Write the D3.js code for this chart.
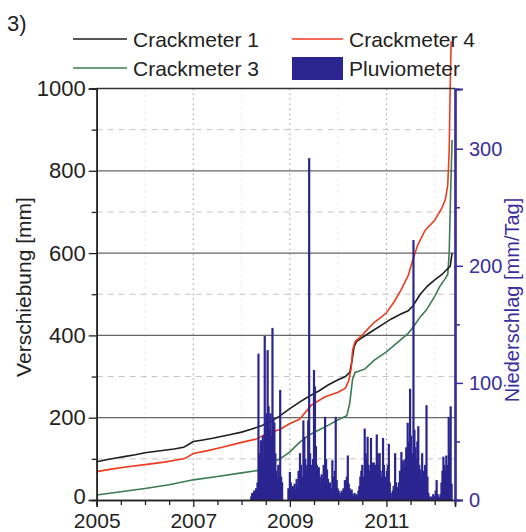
<!DOCTYPE html>
<html>
<head>
<meta charset="utf-8">
<script src="https://cdn.jsdelivr.net/npm/d3@7"></script>
<style>
  body { margin: 0; background: #fff; }
  svg { font-family: "Liberation Sans", Arial, sans-serif; }
</style>
</head>
<body>
<div id="chart"></div>
<script>
// Crackmeter 1 (black)
var c1Years = [2005.0, 2005.2, 2005.4, 2005.6, 2005.8, 2006.0, 2006.2, 2006.4, 2006.6, 2006.8, 2006.9, 2007.0, 2007.2, 2007.4, 2007.6, 2007.8, 2008.0, 2008.2, 2008.4, 2008.6, 2008.8, 2009.0, 2009.2, 2009.4, 2009.6, 2009.8, 2010.0, 2010.15, 2010.24, 2010.29, 2010.33, 2010.38, 2010.5, 2010.7, 2010.9, 2011.1, 2011.3, 2011.45, 2011.55, 2011.7, 2011.85, 2012.0, 2012.15, 2012.25, 2012.32, 2012.36]
var c1Values = [93, 98, 102, 106, 110, 115, 118, 121, 124, 128, 135, 142, 146, 150, 155, 160, 165, 172, 180, 190, 205, 222, 238, 252, 265, 280, 292, 300, 310, 340, 372, 385, 395, 410, 425, 440, 452, 460, 472, 500, 520, 535, 548, 560, 568, 600]

// Crackmeter 4 (red)
var c4Years = [2005.0, 2005.3, 2005.6, 2006.0, 2006.4, 2006.8, 2006.9, 2007.0, 2007.3, 2007.6, 2008.0, 2008.3, 2008.5, 2008.8, 2009.0, 2009.2, 2009.45, 2009.73, 2010.0, 2010.15, 2010.22, 2010.27, 2010.3, 2010.35, 2010.5, 2010.65, 2010.75, 2010.9, 2011.0, 2011.15, 2011.3, 2011.45, 2011.55, 2011.65, 2011.8, 2012.0, 2012.15, 2012.22, 2012.27, 2012.3, 2012.32, 2012.34]
var c4Values = [69, 75, 80, 86, 92, 100, 106, 113, 120, 128, 140, 148, 160, 172, 186, 196, 231, 251, 262, 272, 290, 320, 365, 385, 401, 420, 432, 445, 455, 480, 510, 545, 585, 620, 655, 680, 710, 730, 765, 850, 1000, 1115]

// Crackmeter 3 (green)
var c3Years = [2005.0, 2005.5, 2006.0, 2006.5, 2007.0, 2007.5, 2008.0, 2008.35, 2008.5, 2008.6, 2008.8, 2009.0, 2009.2, 2009.4, 2009.6, 2009.8, 2010.0, 2010.18, 2010.24, 2010.3, 2010.35, 2010.55, 2010.75, 2011.0, 2011.25, 2011.45, 2011.55, 2011.7, 2011.83, 2012.0, 2012.1, 2012.2, 2012.27, 2012.3, 2012.33, 2012.36]
var c3Values = [12, 20, 28, 37, 49, 57, 66, 72, 74, 90, 100, 117, 140, 158, 170, 182, 195, 205, 235, 295, 310, 318, 340, 360, 385, 405, 420, 445, 462, 495, 518, 535, 548, 600, 750, 875]

// Pluviometer (mm/Tag)
var rainYears = [2008.20, 2008.22, 2008.24, 2008.26, 2008.28, 2008.30, 2008.33, 2008.35, 2008.37, 2008.40, 2008.42, 2008.44, 2008.46, 2008.48, 2008.50, 2008.52, 2008.54, 2008.56, 2008.58, 2008.60, 2008.62, 2008.64, 2008.66, 2008.68, 2008.70, 2008.72, 2008.74, 2008.76, 2008.78, 2008.80, 2008.82, 2008.84,
  2008.97, 2009.00, 2009.02, 2009.04, 2009.06, 2009.08, 2009.10, 2009.12, 2009.14, 2009.16, 2009.18, 2009.21, 2009.23, 2009.25, 2009.28, 2009.30, 2009.32, 2009.34, 2009.36, 2009.38, 2009.40, 2009.42, 2009.44, 2009.46, 2009.48, 2009.50, 2009.52, 2009.54, 2009.56, 2009.58, 2009.60, 2009.62, 2009.64, 2009.66, 2009.68, 2009.70, 2009.73, 2009.75, 2009.77, 2009.79, 2009.81, 2009.83, 2009.85, 2009.88, 2009.90, 2009.93, 2009.95, 2009.97, 2009.99,
  2010.01, 2010.03, 2010.05, 2010.07, 2010.09, 2010.11, 2010.14, 2010.16, 2010.18, 2010.20, 2010.22, 2010.24, 2010.26, 2010.28, 2010.30, 2010.32, 2010.34, 2010.36, 2010.38, 2010.40, 2010.42, 2010.44, 2010.46, 2010.48, 2010.50, 2010.52, 2010.55, 2010.57, 2010.59, 2010.61, 2010.63, 2010.65, 2010.68, 2010.70, 2010.72, 2010.74, 2010.76, 2010.78, 2010.80, 2010.82, 2010.84, 2010.86, 2010.88, 2010.90, 2010.93, 2010.95, 2010.97, 2010.99,
  2011.01, 2011.03, 2011.05, 2011.07, 2011.09, 2011.11, 2011.13, 2011.15, 2011.18, 2011.20, 2011.22, 2011.24, 2011.26, 2011.28, 2011.31, 2011.33, 2011.35, 2011.37, 2011.39, 2011.41, 2011.44, 2011.46, 2011.49, 2011.51, 2011.53, 2011.56, 2011.58, 2011.60, 2011.62, 2011.64, 2011.66, 2011.68, 2011.70, 2011.72, 2011.74, 2011.76, 2011.78, 2011.80, 2011.83, 2011.85, 2011.87, 2011.89, 2011.93, 2011.95, 2011.97, 2011.99,
  2012.02, 2012.04, 2012.06, 2012.08, 2012.10, 2012.12, 2012.14, 2012.16, 2012.18, 2012.20, 2012.22, 2012.24, 2012.26, 2012.29, 2012.31, 2012.33, 2012.35]
var rainValues = [3, 6, 2, 8, 5, 10, 15, 125, 40, 51, 30, 55, 35, 140, 60, 74, 128, 80, 60, 74, 55, 147, 70, 66, 40, 25, 18, 30, 20, 94, 20, 15,
  10, 24, 15, 8, 12, 10, 14, 9, 18, 12, 25, 40, 30, 20, 68, 54, 35, 25, 30, 68, 292, 40, 30, 20, 35, 111, 97, 46, 30, 25, 28, 20, 15, 22, 18, 30, 71, 35, 26, 18, 12, 15, 10, 34, 20, 25, 71, 17, 10,
  8, 6, 4, 8, 6, 10, 17, 12, 20, 38, 14, 10, 7, 9, 5, 3, 6, 4, 5, 3, 8, 12, 20, 25, 30, 20, 61, 40, 35, 54, 30, 25, 53, 32, 20, 32, 25, 30, 56, 40, 30, 40, 25, 20, 53, 30, 20, 12,
  25, 30, 48, 15, 6, 3, 8, 12, 40, 15, 11, 8, 15, 25, 41, 30, 34, 28, 35, 45, 66, 50, 95, 55, 40, 222, 60, 45, 35, 50, 63, 30, 26, 20, 40, 25, 15, 30, 81, 20, 6, 3, 3, 2, 5, 3,
  8, 17, 5, 3, 2, 5, 15, 25, 37, 30, 25, 38, 30, 71, 40, 80, 14]

var leftTicks = [0, 200, 400, 600, 800, 1000]
var leftMinor = [100, 300, 500, 700, 900]
var rightTicks = [0, 100, 200, 300]
var rightMinor = [50, 150, 250]
var xTicks = [2005, 2007, 2009, 2011]
var xMinor = [2005.5, 2006, 2006.5, 2007.5, 2008, 2008.5, 2009.5, 2010, 2010.5, 2011.5, 2012]

var blue = "#2b2590"
var axisBlue = "#3a2e9c"

var svg = d3.select("#chart")
    .append("svg")
    .attr("width", 526)
    .attr("height", 532)

var x = d3.scaleLinear().domain([2005, 2012.42]).range([96.7, 455])
var y = d3.scaleLinear().domain([0, 1000]).range([500, 88.5])
var yR = d3.scaleLinear().domain([0, 351]).range([500, 89])

// grid
svg.append("g")
    .selectAll("line.vmin")
    .data([2006, 2008, 2010, 2012])
    .enter()
    .append("line")
    .attr("x1", function (d) { return x(d) })
    .attr("x2", function (d) { return x(d) })
    .attr("y1", y(1000))
    .attr("y2", y(0))
    .attr("stroke", "#e4e4e4")
    .attr("stroke-dasharray", "2,4")

svg.append("g")
    .selectAll("line.vmaj")
    .data([2007, 2009, 2011])
    .enter()
    .append("line")
    .attr("x1", function (d) { return x(d) })
    .attr("x2", function (d) { return x(d) })
    .attr("y1", y(1000))
    .attr("y2", y(0))
    .attr("stroke", "#999")
    .attr("stroke-dasharray", "1.5,3.5")

svg.append("g")
    .selectAll("line.hmin")
    .data(leftMinor)
    .enter()
    .append("line")
    .attr("x1", x(2005))
    .attr("x2", x.range()[1])
    .attr("y1", function (d) { return y(d) })
    .attr("y2", function (d) { return y(d) })
    .attr("stroke", "#c4c4c4")
    .attr("stroke-dasharray", "6,5")

svg.append("g")
    .selectAll("line.hmaj")
    .data([200, 400, 600, 800])
    .enter()
    .append("line")
    .attr("x1", x(2005))
    .attr("x2", x.range()[1])
    .attr("y1", function (d) { return y(d) })
    .attr("y2", function (d) { return y(d) })
    .attr("stroke", "#666")
    .attr("stroke-width", 1.2)

// crackmeter lines
var line = d3.line()
    .x(function (d) { return x(d[0]) })
    .y(function (d) { return y(d[1]) })

var series = [
    { years: c3Years, values: c3Values, color: "#3d7c52" },
    { years: c1Years, values: c1Values, color: "#1e1e1e" },
    { years: c4Years, values: c4Values, color: "#ee3b1f" }
]
series.forEach(function (s) {
    svg.append("path")
        .datum(s.years.map(function (d, i) { return [d, s.values[i]] }))
        .attr("fill", "none")
        .attr("stroke", s.color)
        .attr("stroke-width", 1.6)
        .attr("d", line)
})

// rain bars (on top of the lines)
svg.append("g")
    .selectAll("rect")
    .data(rainYears)
    .enter()
    .append("rect")
    .attr("x", function (d) { return x(d) - 1.1 })
    .attr("width", 2.2)
    .attr("y", function (d, i) { return yR(rainValues[i]) })
    .attr("height", function (d, i) { return yR(0) - yR(rainValues[i]) })
    .attr("fill", blue)

// frame top
svg.append("line")
    .attr("x1", x(2005)).attr("x2", x.range()[1])
    .attr("y1", y(1000)).attr("y2", y(1000))
    .attr("stroke", "#333").attr("stroke-width", 1.6)

// left axis
var gL = svg.append("g").attr("transform", "translate(" + x(2005) + ",0)")
gL.call(d3.axisLeft(y).tickValues(leftTicks).tickSize(8).tickPadding(3).tickFormat(d3.format("d")))
gL.append("g").call(d3.axisLeft(y).tickValues(leftMinor).tickSize(5).tickFormat(""))
gL.selectAll(".domain").attr("stroke", "#222").attr("stroke-width", 1.6)
gL.selectAll("line").attr("stroke", "#222").attr("stroke-width", 1.3)
gL.selectAll("text").style("font-size", "22px").style("fill", "#222")
    .style("font-family", "Liberation Sans, Arial, sans-serif")
// lift the "0" a little so it clears the "2005" below it
gL.selectAll(".tick text").filter(function (d) { return d === 0 }).attr("dy", "0.17em")

// bottom axis
var gB = svg.append("g").attr("transform", "translate(0," + y(0) + ")")
gB.call(d3.axisBottom(x).tickValues(xTicks).tickSize(7).tickPadding(6).tickFormat(d3.format("d")))
gB.append("g").call(d3.axisBottom(x).tickValues(xMinor).tickSize(5).tickFormat(""))
gB.selectAll(".domain").attr("stroke", "#222").attr("stroke-width", 1.6)
gB.selectAll("line").attr("stroke", "#222").attr("stroke-width", 1.3)
gB.selectAll("text").style("font-size", "21px").style("fill", "#222")
    .style("font-family", "Liberation Sans, Arial, sans-serif")

// right axis
var gR = svg.append("g").attr("transform", "translate(" + x.range()[1] + ",0)")
gR.call(d3.axisRight(yR).tickValues(rightTicks).tickSize(8).tickPadding(6).tickFormat(d3.format("d")))
gR.append("g").call(d3.axisRight(yR).tickValues(rightMinor).tickSize(5).tickFormat(""))
gR.selectAll(".domain").attr("stroke", axisBlue).attr("stroke-width", 2.2)
gR.selectAll("line").attr("stroke", axisBlue).attr("stroke-width", 1.5)
gR.selectAll("text").style("font-size", "20px").style("fill", axisBlue)
    .style("font-family", "Liberation Sans, Arial, sans-serif")

// axis titles
svg.append("text")
    .text("Verschiebung [mm]")
    .attr("transform", "translate(31,287) rotate(-90)")
    .attr("text-anchor", "middle")
    .style("font-size", "21px")
    .style("fill", "#222")

svg.append("text")
    .text("Niederschlag [mm/Tag]")
    .attr("transform", "translate(519,300) rotate(-90)")
    .attr("text-anchor", "middle")
    .style("font-size", "20px")
    .style("fill", axisBlue)

svg.append("text")
    .text("3)")
    .attr("x", 7).attr("y", 31)
    .style("font-size", "22px")
    .style("fill", "#222")

// legend
var legend = [
    { name: "Crackmeter 1", color: "#1e1e1e", lx: 73, ly: 39, type: "line" },
    { name: "Crackmeter 4", color: "#ee3b1f", lx: 292, ly: 39, type: "line" },
    { name: "Crackmeter 3", color: "#3d7c52", lx: 73, ly: 68, type: "line" },
    { name: "Pluviometer", color: blue, lx: 292, ly: 68, type: "rect" }
]
legend.forEach(function (l) {
    var w = l.lx === 73 ? 54 : 51
    if (l.type === "line") {
        svg.append("line")
            .attr("x1", l.lx).attr("x2", l.lx + w)
            .attr("y1", l.ly).attr("y2", l.ly)
            .attr("stroke", l.color).attr("stroke-width", 1.6)
    } else {
        svg.append("rect")
            .attr("x", l.lx).attr("y", l.ly - 11)
            .attr("width", w).attr("height", 23)
            .attr("fill", l.color)
    }
    svg.append("text")
        .text(l.name)
        .attr("x", l.lx + w + 6)
        .attr("y", l.ly + 8)
        .style("font-size", "21px")
        .style("fill", "#222")
})
</script>
</body>
</html>
